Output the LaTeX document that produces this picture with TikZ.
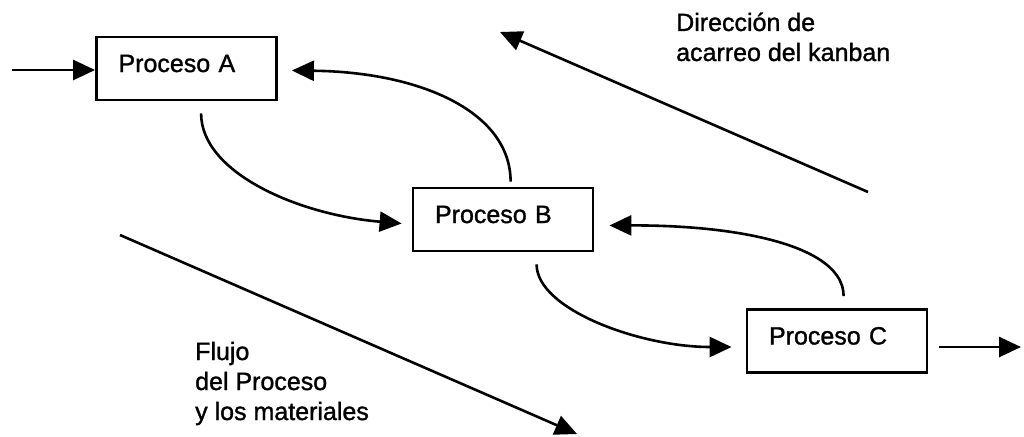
\documentclass[tikz,border=0pt]{standalone}
\usepackage{fontspec}
\setmainfont{Liberation Sans}[FakeBold=1.2]
\usetikzlibrary{arrows.meta}
\begin{document}
\begin{tikzpicture}[x=1pt,y=-1pt,
  every node/.style={font=\fontsize{25}{30}\selectfont},
  procbox/.style={draw, line width=2.8pt, minimum width=180pt, minimum height=63pt,
    inner xsep=22pt, inner ysep=0pt, text width=136pt, align=left,
    text height=18pt, text depth=11pt},
  note/.style={inner sep=0pt, align=left, anchor=base west},
  flow/.style={line width=2.6pt, -{Triangle[length=22pt,width=20pt]}}
]
\useasboundingbox (0,0) rectangle (1024,436);

% process boxes
\node[procbox] (A) at (186.5,68.5) {Proceso A};
\node[procbox] (B) at (503,219.5) {Proceso B};
\node[procbox] (C) at (837,341) {Proceso C};

% free ends of the straight arrows
\coordinate (in)  at (12,70);
\coordinate (out) at (1021,347);
\coordinate (kS) at (868,192);
\coordinate (kE) at (500,32);
\coordinate (fS) at (120,235);
\coordinate (fE) at (577,434);

% material flow in and out
\draw[flow] (in) -- (in -| A.west);
\draw[flow] (C.east |- out) ++(11pt,0) -- (out);

% material flow between processes
\draw[flow] ([xshift=106pt,yshift=-12pt]A.south west)
  .. controls +(0,60) and (300,215) .. ([xshift=-10pt,yshift=-4pt]B.west);
\draw[flow] ([xshift=125pt,yshift=-12pt]B.south west)
  .. controls +(0,45) and (640,347) .. ([xshift=-14pt,yshift=-6pt]C.west);

% kanban returning upstream
\draw[flow] ([xshift=99pt,yshift=5pt]B.north west)
  .. controls +(0,-70) and (420,72) .. ([xshift=14pt,yshift=-2pt]A.east);
\draw[flow] ([xshift=98pt,yshift=12pt]C.north west)
  .. controls +(0,-50) and (740,225) .. ([xshift=15pt,yshift=-6pt]B.east);

% overall directions
\draw[flow] (kS) -- (kE);
\draw[flow] (fS) -- (fE);

% labels (anchored at the baseline of the last line)
\node[note] (kanban) at (676,61) {Dirección de\\acarreo del kanban};
\node[note] (flujo) at (195,420) {Flujo\\del Proceso\\y los materiales};
\end{tikzpicture}
\end{document}
